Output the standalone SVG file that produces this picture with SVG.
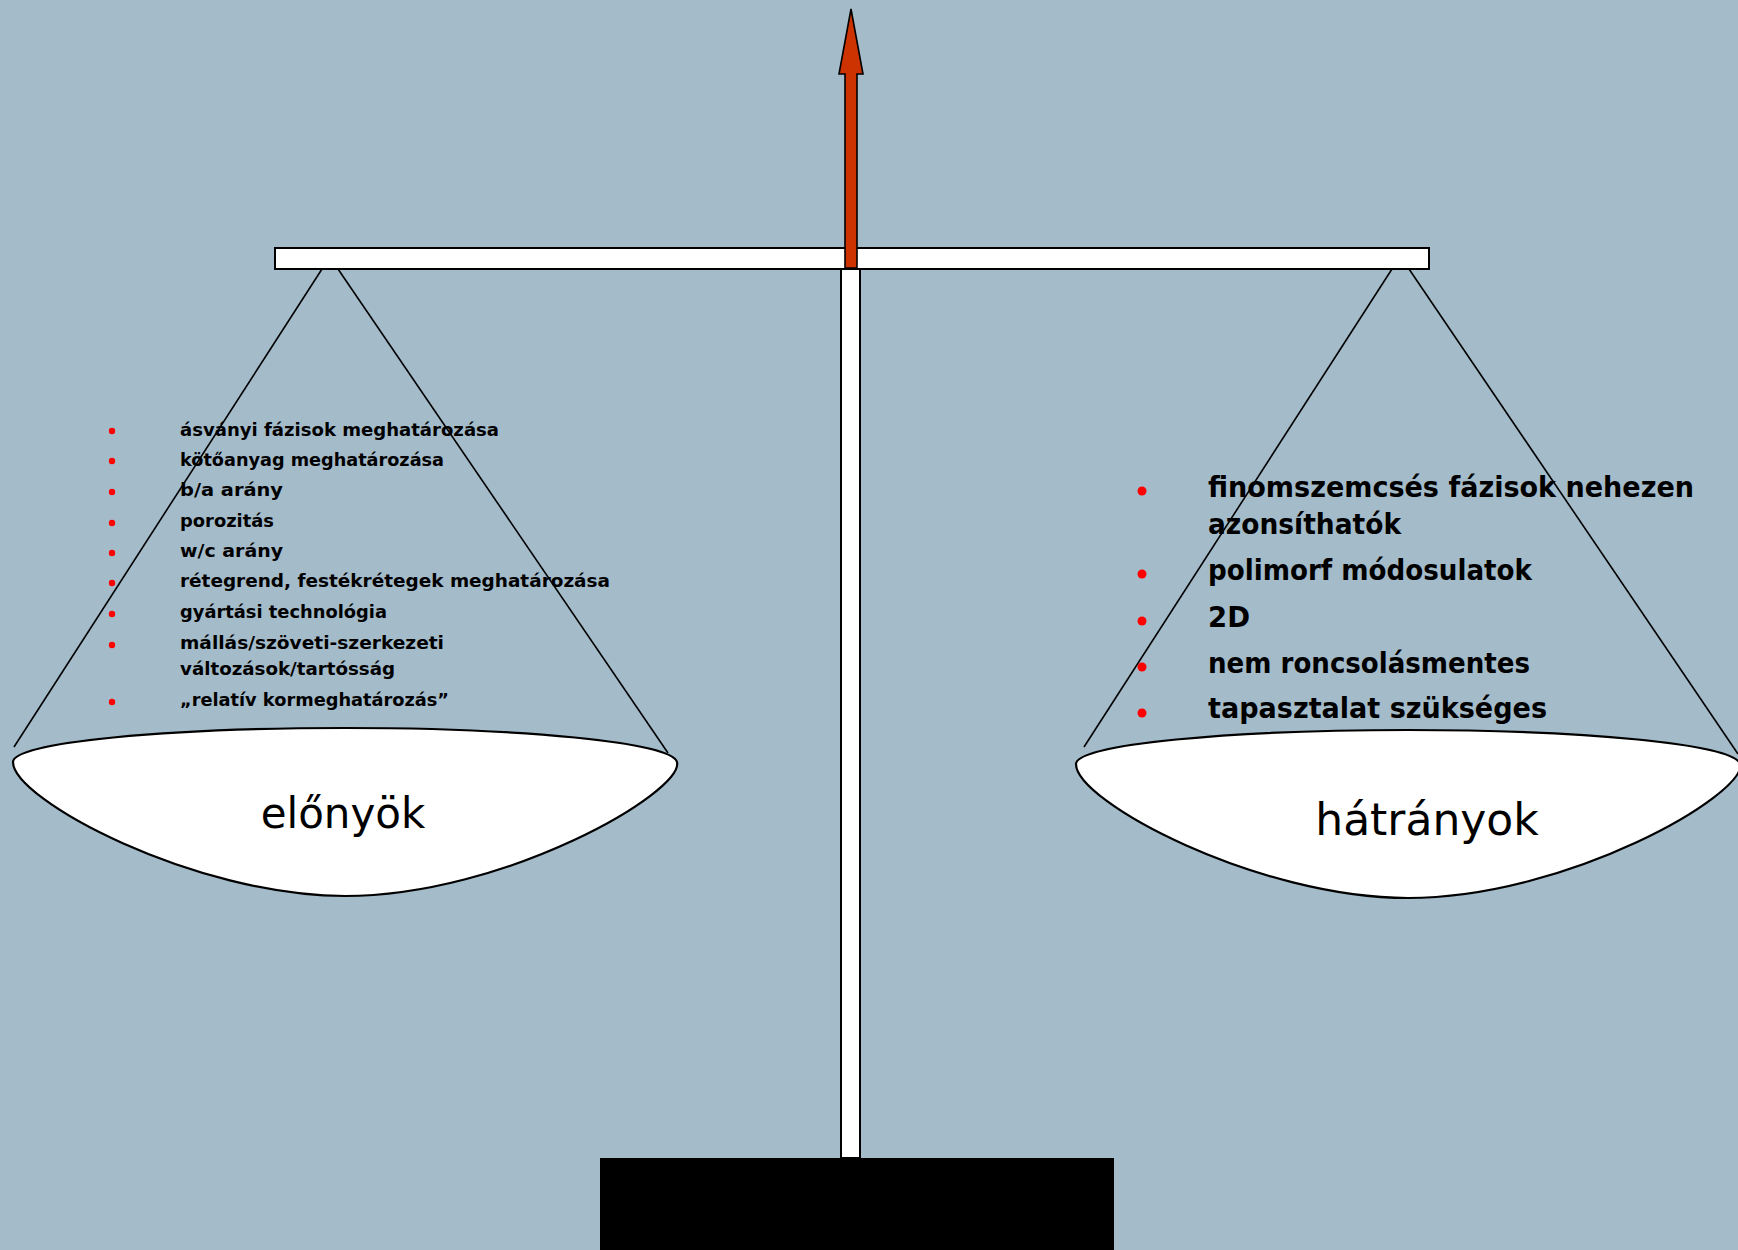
<svg xmlns="http://www.w3.org/2000/svg" width="1738" height="1250" viewBox="0 0 1738 1250">
<style>
.bg{fill:#A4BBCA}
.wb{fill:#ffffff;stroke:#000;stroke-width:2}
.str{stroke:#000;stroke-width:1.6;fill:none}
.pan{fill:#ffffff;stroke:#000;stroke-width:2.2}
.lbl{font-family:'Comic Sans MS','DejaVu Sans',sans-serif;fill:#000}
.ls{font-family:'Comic Sans MS','DejaVu Sans',sans-serif;font-weight:bold;font-size:18px;fill:#000}
.rs{font-family:'Comic Sans MS','DejaVu Sans',sans-serif;font-weight:bold;font-size:28px;fill:#000}
.bul{fill:#FF0000}
</style>
<defs>
<path id="panShape" d="M13,762 C13,742 170,728 345,728 C520,728 672,742 677,762 C684,792 505,896 345,896 C195,896 13,800 13,762 Z"/>
</defs>
<rect class="bg" x="0" y="0" width="1738" height="1250"/>

<g id="base"><rect x="600" y="1158" width="514" height="92" fill="#000"/></g>
<g id="post"><rect class="wb" x="841" y="269" width="19" height="889" stroke-width="1.6"/></g>
<g id="beam"><rect class="wb" x="275" y="248" width="1154" height="21"/></g>
<g id="arrow"><polygon points="851,9 863,74 857,74 857,268 845,268 845,74 839,74" fill="#CC3300" stroke="#000" stroke-width="1.6" stroke-linejoin="miter"/></g>

<g id="connectors">
<line class="str" x1="322" y1="269" x2="14" y2="747"/>
<line class="str" x1="338" y1="269" x2="668" y2="753"/>
<line class="str" x1="1392" y1="269" x2="1084" y2="747"/>
<line class="str" x1="1409" y1="269" x2="1738" y2="754"/>
</g>

<g id="pan-left">
<use href="#panShape" class="pan"/>
<text class="lbl" x="343" y="828" font-size="42" text-anchor="middle">előnyök</text>
</g>
<g id="pan-right">
<use href="#panShape" class="pan" transform="translate(1063,2)"/>
<text class="lbl" x="1427" y="835" font-size="44" text-anchor="middle">hátrányok</text>
</g>

<g id="list-left">
<circle class="bul" cx="112" cy="431" r="3.2"/>
<circle class="bul" cx="112" cy="461" r="3.2"/>
<circle class="bul" cx="112" cy="492" r="3.2"/>
<circle class="bul" cx="112" cy="523" r="3.2"/>
<circle class="bul" cx="112" cy="553" r="3.2"/>
<circle class="bul" cx="112" cy="583" r="3.2"/>
<circle class="bul" cx="112" cy="614" r="3.2"/>
<circle class="bul" cx="112" cy="645" r="3.2"/>
<circle class="bul" cx="112" cy="702" r="3.2"/>
<text class="ls" x="180" y="436" textLength="319" lengthAdjust="spacingAndGlyphs">ásványi fázisok meghatározása</text>
<text class="ls" x="180" y="466" textLength="264" lengthAdjust="spacingAndGlyphs">kötőanyag meghatározása</text>
<text class="ls" x="180" y="496" textLength="103" lengthAdjust="spacingAndGlyphs">b/a arány</text>
<text class="ls" x="180" y="527" textLength="94" lengthAdjust="spacingAndGlyphs">porozitás</text>
<text class="ls" x="180" y="557" textLength="103" lengthAdjust="spacingAndGlyphs">w/c arány</text>
<text class="ls" x="180" y="587" textLength="430" lengthAdjust="spacingAndGlyphs">rétegrend, festékrétegek meghatározása</text>
<text class="ls" x="180" y="618" textLength="207" lengthAdjust="spacingAndGlyphs">gyártási technológia</text>
<text class="ls" x="180" y="649" textLength="264" lengthAdjust="spacingAndGlyphs">mállás/szöveti-szerkezeti</text>
<text class="ls" x="180" y="675" textLength="215" lengthAdjust="spacingAndGlyphs">változások/tartósság</text>
<text class="ls" x="180" y="706" textLength="269" lengthAdjust="spacingAndGlyphs">„relatív kormeghatározás”</text>
</g>

<g id="list-right">
<circle class="bul" cx="1142" cy="491" r="4.5"/>
<circle class="bul" cx="1142" cy="574" r="4.5"/>
<circle class="bul" cx="1142" cy="621" r="4.5"/>
<circle class="bul" cx="1142" cy="667" r="4.5"/>
<circle class="bul" cx="1142" cy="713" r="4.5"/>
<text class="rs" x="1208" y="497" textLength="486" lengthAdjust="spacingAndGlyphs">finomszemcsés fázisok nehezen</text>
<text class="rs" x="1208" y="534" textLength="193" lengthAdjust="spacingAndGlyphs">azonsíthatók</text>
<text class="rs" x="1208" y="580" textLength="324" lengthAdjust="spacingAndGlyphs">polimorf módosulatok</text>
<text class="rs" x="1208" y="627" textLength="42" lengthAdjust="spacingAndGlyphs">2D</text>
<text class="rs" x="1208" y="673" textLength="322" lengthAdjust="spacingAndGlyphs">nem roncsolásmentes</text>
<text class="rs" x="1208" y="718" textLength="339" lengthAdjust="spacingAndGlyphs">tapasztalat szükséges</text>
</g>
</svg>
